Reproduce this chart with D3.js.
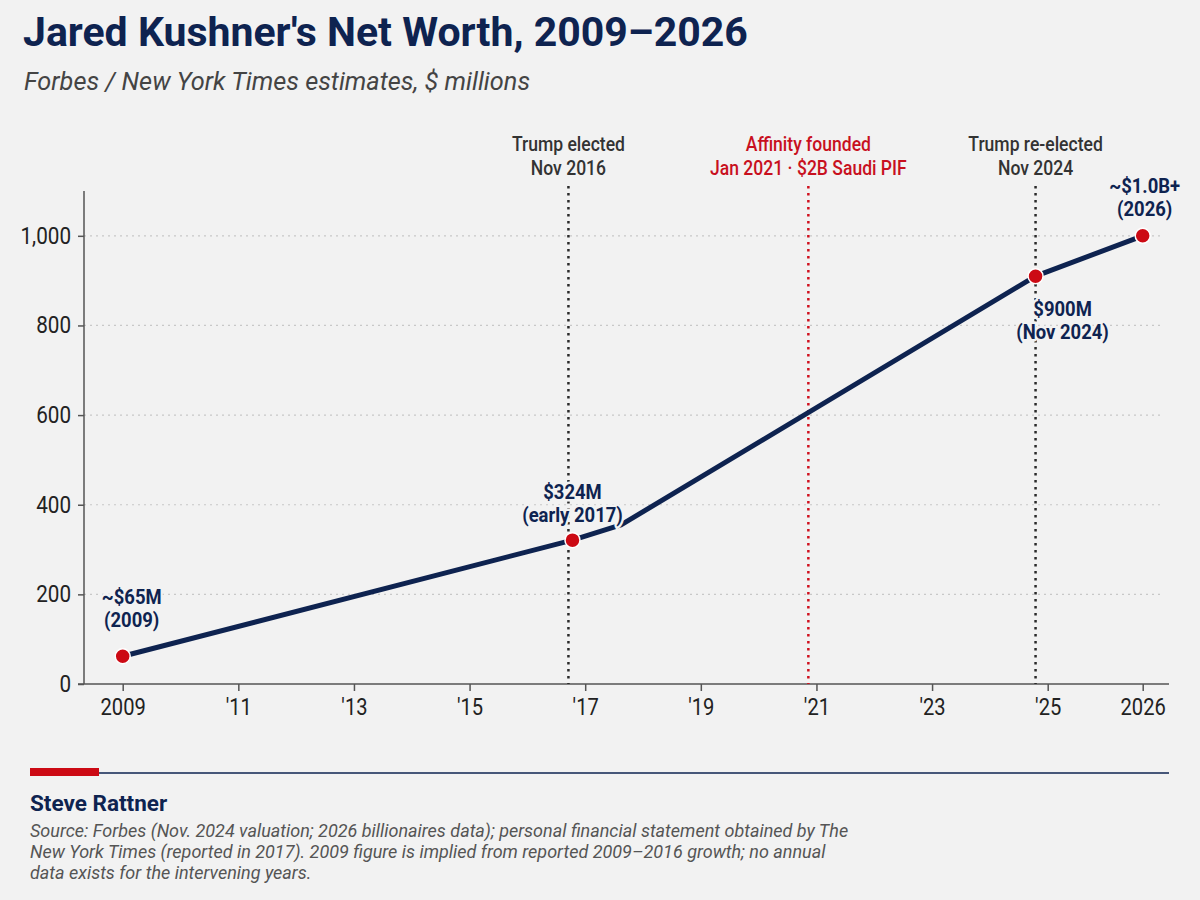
<!DOCTYPE html>
<html>
<head>
<meta charset="utf-8">
<script src="https://cdn.jsdelivr.net/npm/d3@7"></script>
<style>
  body { margin: 0; background: #f2f2f2; }
  svg { display: block; }
  text { font-family: Roboto, "Liberation Sans", sans-serif; }
</style>
</head>
<body>
<svg id="chart" width="1200" height="900"></svg>
<script>
// ---- data ----
var years     = [2009, 2016.78, 2017.62, 2024.79, 2026];
var netWorth  = [62, 321, 355, 910, 1000];

var markerYears  = [2009, 2016.78, 2024.79, 2026];
var markerValues = [62, 321, 910, 1000];
var markerTop    = ["~$65M", "$324M", "$900M", "~$1.0B+"];
var markerBottom = ["(2009)", "(early 2017)", "(Nov 2024)", "(2026)"];

var eventYears  = [2016.71, 2020.86, 2024.79];
var eventTop    = ["Trump elected", "Affinity founded", "Trump re-elected"];
var eventBottom = ["Nov 2016", "Jan 2021 \u00b7 $2B Saudi PIF", "Nov 2024"];

var xTickValues = [2009, 2011, 2013, 2015, 2017, 2019, 2021, 2023, 2025, 2026];
var xTickLabels = ["2009", "'11", "'13", "'15", "'17", "'19", "'21", "'23", "'25", "2026"];
var yTickValues = [0, 200, 400, 600, 800, 1000];

// ---- layout ----
var navy = "#0e2350";
var red = "#cc0a14";
var bg = "#f2f2f2";
var sxLabel = 0.9;   // squeeze Roboto to look like a condensed face

var svg = d3.select("#chart");
svg.append("rect").attr("width", 1200).attr("height", 900).attr("fill", bg);

// x is linear up to '25, the last year is drawn wider as in the original
var x = d3.scaleLinear()
	.domain([2009, 2025, 2026])
	.range([122.7, 1047.7, 1142.7]);
var y = d3.scaleLinear()
	.domain([0, 1100])
	.range([684, 191]);

var axisLeft = 84, axisRight = 1169, gridRight = 1160;

function at(px, py, sx) {
	return "translate(" + px + "," + py + ") scale(" + sx + ",1)";
}

// title
svg.append("text")
	.attr("x", 23).attr("y", 46)
	.style("font-weight", "bold")
	.style("font-size", "41px").attr("fill", navy)
	.text("Jared Kushner's Net Worth, 2009\u20132026");

svg.append("text")
	.attr("x", 24).attr("y", 90)
	.style("font-style", "italic")
	.style("font-size", "25.3px").attr("fill", "#444")
	.text("Forbes / New York Times estimates, $ millions");

// gridlines
svg.append("g").selectAll("line")
	.data(yTickValues.filter(function(d) { return d > 0; }))
	.join("line")
	.attr("x1", axisLeft).attr("x2", gridRight)
	.attr("y1", function(d) { return y(d); })
	.attr("y2", function(d) { return y(d); })
	.attr("stroke", "#c8c8c8").attr("stroke-width", 1.2)
	.attr("stroke-dasharray", "2,4");

// y axis
var gy = svg.append("g")
	.attr("transform", "translate(" + axisLeft + ",0)")
	.call(d3.axisLeft(y).tickValues(yTickValues).tickSize(6).tickPadding(7)
		.tickFormat(d3.format(",")));
gy.select(".domain").attr("stroke", "#555").attr("stroke-width", 1.5)
	.attr("d", "M0," + y(1100) + "V" + y(0));
gy.selectAll(".tick line").attr("stroke", "#555").attr("stroke-width", 1.5);
gy.selectAll(".tick text")
	.attr("x", -13 / 0.88)
	.attr("transform", "scale(0.88,1)")
	.style("font-family", "Roboto").style("font-size", "23.5px").attr("fill", "#222");

// x axis
var gx = svg.append("g")
	.attr("transform", "translate(0," + y(0) + ")")
	.call(d3.axisBottom(x).tickValues(xTickValues).tickSize(7).tickPadding(7)
		.tickFormat(function(d, i) { return xTickLabels[i]; }));
gx.select(".domain").attr("stroke", "#555").attr("stroke-width", 1.5)
	.attr("d", "M" + (axisLeft - 6) + ",0H" + axisRight);
gx.selectAll(".tick line").attr("stroke", "#555").attr("stroke-width", 1.5);
gx.selectAll(".tick text")
	.attr("transform", "scale(0.84,1)")
	.style("font-family", "Roboto").style("font-size", "24px").attr("fill", "#222");

// event markers
var events = eventYears.map(function(d, i) {
	return { year: d, top: eventTop[i], bottom: eventBottom[i], hot: i === 1 };
});
var ev = svg.append("g").selectAll("g").data(events).join("g");
ev.append("line")
	.attr("x1", function(d) { return x(d.year); })
	.attr("x2", function(d) { return x(d.year); })
	.attr("y1", 186).attr("y2", y(0))
	.attr("stroke", function(d) { return d.hot ? "#d0101e" : "#2a2a2a"; })
	.attr("stroke-width", 2.5)
	.attr("stroke-dasharray", "2.5,4.5");
[["top", 151], ["bottom", 175]].forEach(function(row) {
	ev.append("text")
		.attr("transform", function(d) { return at(x(d.year), row[1], sxLabel); })
		.attr("text-anchor", "middle")
		.style("font-size", "19.5px").style("font-weight", 500)
		.attr("fill", function(d) { return d.hot ? "#c8101e" : "#333"; })
		.text(function(d) { return d[row[0]]; });
});

// the line
var pts = years.map(function(d, i) { return [d, netWorth[i]]; });
svg.append("path")
	.datum(pts)
	.attr("fill", "none")
	.attr("stroke", navy)
	.attr("stroke-width", 5)
	.attr("stroke-linejoin", "round")
	.attr("d", d3.line()
		.x(function(d) { return x(d[0]); })
		.y(function(d) { return y(d[1]); }));

// marker labels, offset from the dot: [dx, dy of first line]
var labelPlace = [[9, -52], [0, -41], [27, 40], [2, -43]];
var marks = markerYears.map(function(d, i) {
	return { year: d, value: markerValues[i], top: markerTop[i], bottom: markerBottom[i], off: labelPlace[i] };
});

var labels = svg.append("g");
[["top", 0], ["bottom", 23]].forEach(function(row) {
	labels.append("g").selectAll("text").data(marks).join("text")
		.attr("transform", function(d) {
			return at(x(d.year) + d.off[0], y(d.value) + d.off[1] + row[1], sxLabel);
		})
		.attr("text-anchor", "middle")
		.style("font-weight", "bold").style("font-size", "20.5px")
		.attr("fill", navy)
		.attr("stroke", bg).attr("stroke-width", 5).attr("stroke-linejoin", "round")
		.style("paint-order", "stroke")
		.text(function(d) { return d[row[0]]; });
});

svg.append("g").selectAll("circle").data(marks).join("circle")
	.attr("cx", function(d) { return x(d.year); })
	.attr("cy", function(d) { return y(d.value); })
	.attr("r", 7.5)
	.attr("fill", red)
	.attr("stroke", "#fff").attr("stroke-width", 1.5);

// footer
svg.append("line")
	.attr("x1", 99).attr("x2", axisRight).attr("y1", 773).attr("y2", 773)
	.attr("stroke", navy).attr("stroke-width", 1.5);
svg.append("rect")
	.attr("x", 30).attr("y", 768).attr("width", 69).attr("height", 8)
	.attr("fill", red);

svg.append("text")
	.attr("transform", at(30, 811, 1))
	.style("font-weight", "bold").style("font-size", "22.5px")
	.attr("fill", navy)
	.text("Steve Rattner");

var sourceLines = [
	"Source: Forbes (Nov. 2024 valuation; 2026 billionaires data); personal financial statement obtained by The",
	"New York Times (reported in 2017). 2009 figure is implied from reported 2009\u20132016 growth; no annual",
	"data exists for the intervening years."
];
svg.append("g").selectAll("text").data(sourceLines).join("text")
	.attr("transform", function(d, i) { return at(30, 837 + i * 21, 1); })
	.style("font-style", "italic").style("font-size", "18px")
	.attr("fill", "#555")
	.text(function(d) { return d; });
</script>
</body>
</html>
